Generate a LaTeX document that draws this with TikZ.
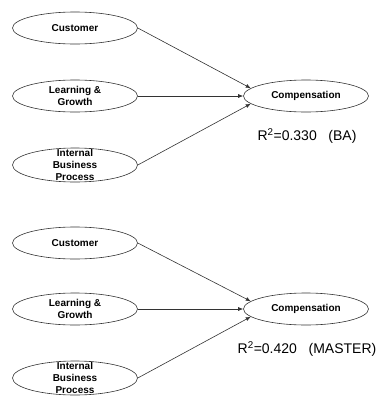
\documentclass[tikz,border=0pt]{standalone}
\usepackage{fontspec}
\setmainfont{Liberation Sans}
\usetikzlibrary{shapes.geometric,arrows.meta}
\begin{document}
\begin{tikzpicture}[x=1pt,y=-1pt,
  oval/.style={draw=black!80,line width=0.6pt,ellipse,inner sep=0pt,minimum width=125pt,minimum height=32pt},
  lbl/.style={font=\fontsize{10}{12}\selectfont\bfseries,align=center,inner sep=0pt},
  rsq/.style={font=\fontsize{14}{16}\selectfont,inner sep=0pt},
  arr/.style={draw=black!80,line width=0.6pt,-{Latex[length=5pt,width=4pt]}}]
\useasboundingbox (0,0) rectangle (379,397);
% top block
\node[oval,label={[lbl]center:Customer}] (c1) at (75,28) {};
\node[oval,label={[lbl]center:Learning \&\\Growth}] (l1) at (75,96) {};
\node[oval,minimum height=34pt,label={[lbl]center:Internal\\Business\\Process}] (i1) at (75,165) {};
\node[oval,label={[lbl]center:Compensation}] (p1) at (306,96) {};
\node[rsq] (r1) at (307,136) {R\textsuperscript{2}=0.330\ \ \ (BA)};
\draw[arr] (c1.east) -- (p1.172);
\draw[arr] (l1.east) -- (p1.west);
\draw[arr] (i1.east) -- (p1.188);
% bottom block
\node[oval,label={[lbl]center:Customer}] (c2) at (75,243) {};
\node[oval,label={[lbl]center:Learning \&\\Growth}] (l2) at (75,309) {};
\node[oval,minimum height=34pt,label={[lbl]center:Internal\\Business\\Process}] (i2) at (75,378) {};
\node[oval,label={[lbl]center:Compensation}] (p2) at (306,309) {};
\node[rsq] (r2) at (307,349) {R\textsuperscript{2}=0.420\ \ \ (MASTER)};
\draw[arr] (c2.east) -- (p2.172);
\draw[arr] (l2.east) -- (p2.west);
\draw[arr] (i2.east) -- (p2.188);
\end{tikzpicture}
\end{document}
